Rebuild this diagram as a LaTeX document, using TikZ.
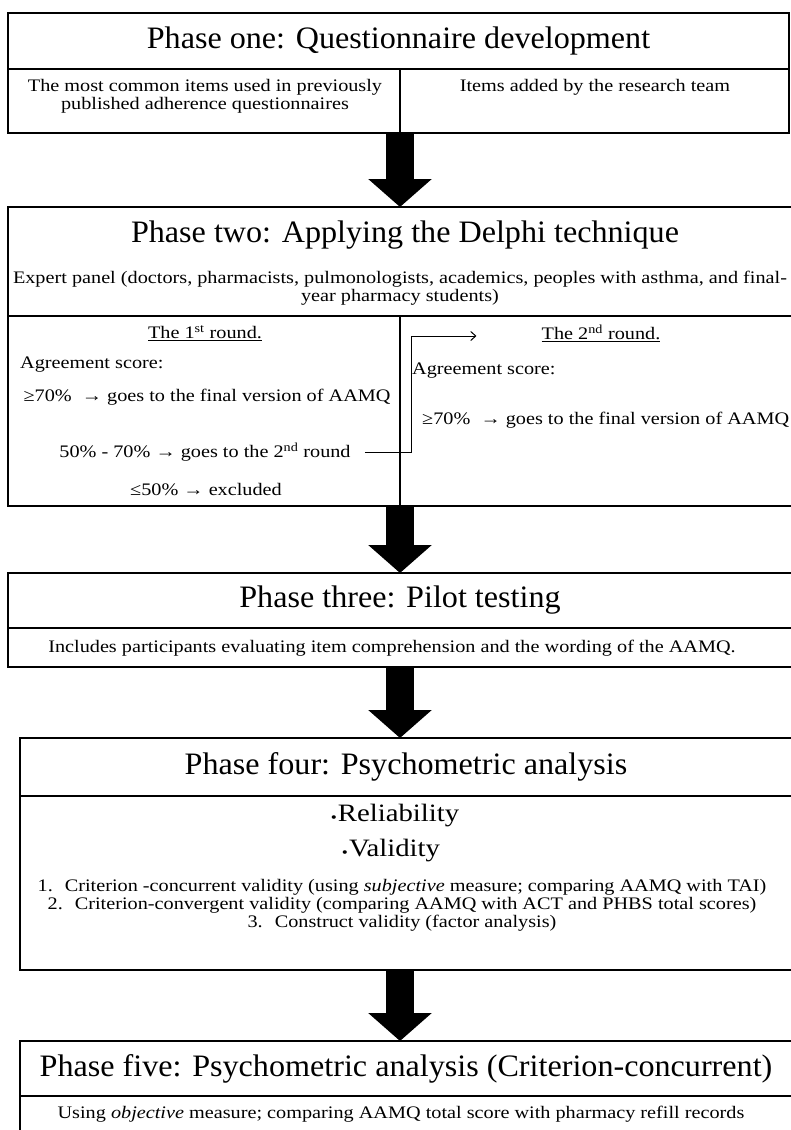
\documentclass[tikz,border=0pt]{standalone}
\usepackage{fontspec}
\setmainfont{Liberation Serif}[FakeStretch=1.03]
\newfontfamily\bodyserif{Liberation Serif}[FakeStretch=1.15]
\usetikzlibrary{calc,positioning,arrows.meta}

\newcommand{\hdrfont}{\fontsize{31.2}{33}\selectfont}
\newcommand{\txtfont}{\bodyserif\fontsize{17.6}{18}\selectfont}
\newcommand{\subfont}{\bodyserif\fontsize{25}{27}\selectfont}
\newcommand{\dotitem}{\raisebox{-1pt}{\fontsize{15}{15}\selectfont\textbullet}\hspace{1pt}}

\tikzset{
  box/.style={draw, line width=2pt, inner sep=0pt, outer sep=0pt, anchor=north west},
  hdr/.style={font=\hdrfont, inner sep=0pt},
  txt/.style={font=\txtfont, inner sep=0pt, align=center},
  sub/.style={font=\subfont, inner sep=0pt},
  bigarrow/.style={line width=28pt, -{Triangle[width=62pt,length=28pt]}},
  link/.style={line width=1pt, -{Straight Barb[length=5pt,width=9pt]}}
}

\begin{document}
\begin{tikzpicture}[x=1pt,y=1pt]
\useasboundingbox (0,0) rectangle (791,-1130);

\node[box, hdr, minimum width=781pt, minimum height=56pt] (p1) at (8,-13) {Phase one: Questionnaire development};
\node[box, minimum width=392pt, minimum height=64pt] (p1a) at (p1.south west) {};
\node[box, anchor=north east, minimum width=389pt, minimum height=64pt] (p1b) at (p1.south east) {};
\node[txt] (p1at) at (205,-96) {The most common items used in previously\\published adherence questionnaires};
\node[txt] (p1bt) at (595,-87) {Items added by the research team};

\node[box, minimum width=784pt, minimum height=109pt] (p2) at (8,-207) {};
\node[box, minimum width=392pt, minimum height=190pt] (p2a) at (p2.south west) {};
\node[box, anchor=north east, minimum width=392pt, minimum height=190pt] (p2b) at (p2.south east) {};
\node[hdr] (p2t) at (405,-235) {Phase two: Applying the Delphi technique};
\node[txt] (p2x) at (400,-288) {Expert panel (doctors, pharmacists, pulmonologists, academics, peoples with asthma, and final-\\year pharmacy students)};

\node[txt] (r1t) at (205,-333) {\underline{The 1\textsuperscript{st} round.}};
\node[txt, anchor=west] (r1a) at (20,-365) {Agreement score:};
\node[txt] (r1h) at (207,-397) {≥70\%\ \ → goes to the final version of AAMQ};
\node[txt] (r1m) at (205,-452) {50\% - 70\% → goes to the 2\textsuperscript{nd} round};
\node[txt] (r1l) at (206,-490) {≤50\% → excluded};

\node[txt] (r2t) at (601,-333) {\underline{The 2\textsuperscript{nd} round.}};
\node[txt, anchor=west] (r2a) at (412,-371) {Agreement score:};
\node[txt, anchor=west] (r2h) at (422,-420) {≥70\%\ \ → goes to the final version of AAMQ};

\coordinate (bend) at ($(p2a.east |- r2t)+(11,-3)$);
\draw[link] ([xshift=14pt]r1m.east) -| (bend) -- ([xshift=-65pt]bend -| r2t.west);

\node[box, hdr, minimum width=784pt, minimum height=55pt] (p3) at (8,-573) {Phase three: Pilot testing};
\node[box, minimum width=784pt, minimum height=39pt] (p3b) at (p3.south west) {};
\node[txt] (p3x) at (392,-648) {Includes participants evaluating item comprehension and the wording of the AAMQ.};

\node[box, hdr, minimum width=772pt, minimum height=58pt] (p4) at (20,-738) {Phase four: Psychometric analysis};
\node[box, minimum width=772pt, minimum height=174pt] (p4b) at (p4.south west) {};
\node[sub] (rel) at (395,-816) {\dotitem Reliability};
\node[sub] (val) at (391,-851) {\dotitem Validity};
\node[txt] (crit) at (402,-905) {1.\hspace{12pt}Criterion -concurrent validity (using \textit{subjective} measure; comparing AAMQ with TAI)\\
2.\hspace{12pt}Criterion-convergent validity (comparing AAMQ with ACT and PHBS total scores)\\
3.\hspace{12pt}Construct validity (factor analysis)};

\node[box, hdr, minimum width=772pt, minimum height=55pt] (p5) at (20,-1041) {Phase five: Psychometric analysis (Criterion-concurrent)};
\node[box, minimum width=772pt, minimum height=60pt] (p5b) at (p5.south west) {};
\node[txt] (p5x) at (401,-1114) {Using \textit{objective} measure; comparing AAMQ total score with pharmacy refill records};

\foreach \a/\b in {p1a/p2, p2a/p3, p3b/p4, p4b/p5}
  \draw[bigarrow] (\a.south -| p1a.east) -- (\b.north -| p1a.east);

\end{tikzpicture}
\end{document}
